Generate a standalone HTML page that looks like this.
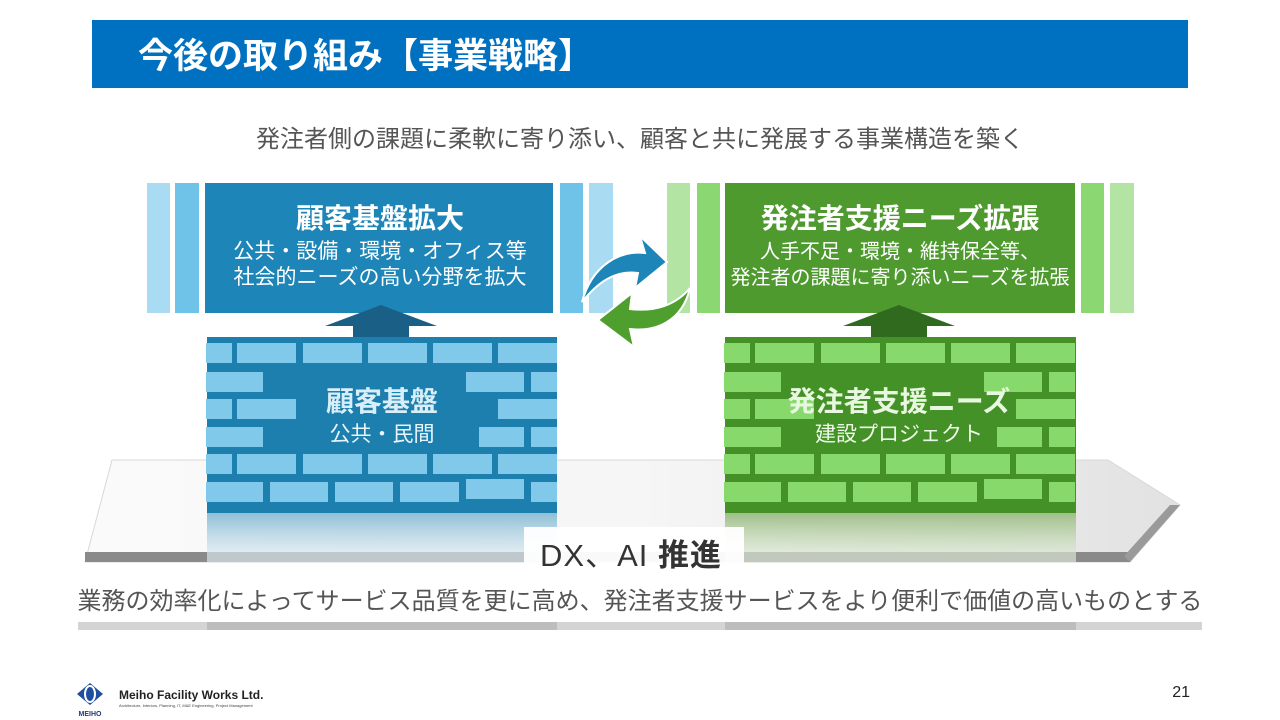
<!DOCTYPE html>
<html><head><meta charset="utf-8"><style>
body{margin:0;width:1280px;height:720px;background:#fff;overflow:hidden;font-family:"Liberation Sans","Noto Sans CJK JP",sans-serif}
</style></head><body>
<svg width="1280" height="720" xmlns="http://www.w3.org/2000/svg" style="position:absolute;left:0;top:0;font-family:'Liberation Sans','Noto Sans CJK JP',sans-serif">
<defs>
<linearGradient id="plat" x1="0" y1="0" x2="1" y2="0"><stop offset="0" stop-color="#fafafa"/><stop offset="0.5" stop-color="#f6f6f6"/><stop offset="1" stop-color="#e2e2e2"/></linearGradient>
<linearGradient id="bfade" x1="0" y1="0" x2="0" y2="1"><stop offset="0" stop-color="#8fbfd6"/><stop offset="1" stop-color="#e6f0f5" stop-opacity="0.6"/></linearGradient>
<linearGradient id="gfade" x1="0" y1="0" x2="0" y2="1"><stop offset="0" stop-color="#9fbf8a"/><stop offset="1" stop-color="#e8f0e2" stop-opacity="0.6"/></linearGradient>
<g id="bricks">
<rect x="206" y="343" width="26" height="20"/><rect x="237" y="343" width="59" height="20"/><rect x="303" y="343" width="59" height="20"/><rect x="368" y="343" width="59" height="20"/><rect x="433" y="343" width="59" height="20"/><rect x="498" y="343" width="59" height="20"/>
<rect x="206" y="372" width="57" height="20"/><rect x="466" y="372" width="58" height="20"/><rect x="531" y="372" width="26" height="20"/>
<rect x="206" y="399" width="26" height="20"/><rect x="237" y="399" width="59" height="20"/><rect x="498" y="399" width="59" height="20"/>
<rect x="206" y="427" width="57" height="20"/><rect x="479" y="427" width="45" height="20"/><rect x="531" y="427" width="26" height="20"/>
<rect x="206" y="454" width="26" height="20"/><rect x="237" y="454" width="59" height="20"/><rect x="303" y="454" width="59" height="20"/><rect x="368" y="454" width="59" height="20"/><rect x="433" y="454" width="59" height="20"/><rect x="498" y="454" width="59" height="20"/>
<rect x="206" y="482" width="57" height="20"/><rect x="270" y="482" width="58" height="20"/><rect x="335" y="482" width="58" height="20"/><rect x="400" y="482" width="59" height="20"/><rect x="466" y="479" width="58" height="20"/><rect x="531" y="482" width="26" height="20"/>
</g>
</defs>
<rect x="92" y="20" width="1096" height="68" fill="#0070c0"/>
<text x="138" y="68" font-size="35" font-weight="bold" fill="#fff">今後の取り組み【事業戦略】</text>
<text x="640" y="147" font-size="24" fill="#555" text-anchor="middle">発注者側の課題に柔軟に寄り添い、顧客と共に発展する事業構造を築く</text>

<polygon points="112,460 1108,460 1180,505 1130,562 85,562" fill="url(#plat)" stroke="#d8d8d8"/>
<polygon points="85,552 1136,552 1130,562 85,562" fill="#8a8a8a"/>
<polygon points="1180,505 1130,562 1124,556 1170,505" fill="#9a9a9a"/>

<rect x="147" y="183" width="23" height="130" fill="#a9dcf2"/>
<rect x="175" y="183" width="24" height="130" fill="#6fc2e8"/>
<rect x="560" y="183" width="23" height="130" fill="#6fc2e8"/>
<rect x="589" y="183" width="24" height="130" fill="#a9dcf2"/>
<rect x="205" y="183" width="348" height="130" fill="#1d85b7"/>
<text x="380" y="228" font-size="28" font-weight="bold" fill="#fff" text-anchor="middle">顧客基盤拡大</text>
<text x="380" y="258" font-size="21" fill="#fff" text-anchor="middle">公共・設備・環境・オフィス等</text>
<text x="380" y="284" font-size="21" fill="#fff" text-anchor="middle">社会的ニーズの高い分野を拡大</text>
<polygon points="325,326 381,305 437,326 409,326 409,338 353,338 353,326" fill="#1a5f86"/>
<rect x="207" y="337" width="350" height="176" fill="#1d7fae"/>
<g fill="#80c9ea"><use href="#bricks"/></g>
<rect x="207" y="513" width="350" height="50" fill="url(#bfade)"/>
<text x="382" y="411" font-size="28" font-weight="bold" fill="#d8eef8" text-anchor="middle">顧客基盤</text>
<text x="382" y="441" font-size="21" fill="#e8f5fb" text-anchor="middle">公共・民間</text>

<rect x="667" y="183" width="23" height="130" fill="#b3e4a3"/>
<rect x="697" y="183" width="23" height="130" fill="#8bd873"/>
<rect x="1081" y="183" width="23" height="130" fill="#8bd873"/>
<rect x="1110" y="183" width="24" height="130" fill="#b3e4a3"/>
<rect x="725" y="183" width="350" height="130" fill="#4e9a2f"/>
<text x="900" y="228" font-size="28" font-weight="bold" fill="#fff" text-anchor="middle">発注者支援ニーズ拡張</text>
<text x="900" y="258" font-size="20" fill="#fff" text-anchor="middle">人手不足・環境・維持保全等、</text>
<text x="900" y="284" font-size="20" fill="#fff" text-anchor="middle">発注者の課題に寄り添いニーズを拡張</text>
<polygon points="843,326 899,305 955,326 927,326 927,338 871,338 871,326" fill="#2f6a1f"/>
<rect x="725" y="337" width="351" height="176" fill="#449128"/>
<g fill="#88d96c" transform="translate(518,0)"><use href="#bricks"/></g>
<rect x="725" y="513" width="351" height="50" fill="url(#gfade)"/>
<text x="899" y="411" font-size="28" font-weight="bold" fill="#e8f7df" text-anchor="middle">発注者支援ニーズ</text>
<text x="899" y="441" font-size="21" fill="#eef9e8" text-anchor="middle">建設プロジェクト</text>

<path d="M582,302 C592,265 620,250 645,253 L640,236 L667,262 L635,288 L638,273 C615,270 598,282 582,302 Z" fill="#1d85b7" stroke="#fff" stroke-width="2"/>
<path d="M690,288 C682,322 655,332 630,329 L634,347 L598,320 L632,293 L630,309 C655,312 676,305 690,288 Z" fill="#4e9f2e" stroke="#fff" stroke-width="2"/>

<rect x="524" y="527" width="220" height="50" fill="#fff" opacity="0.95"/>
<text x="540" y="566" font-size="31" fill="#333" letter-spacing="1">DX、AI <tspan font-weight="bold">推進</tspan></text>

<text x="640" y="609" font-size="24" fill="#555" text-anchor="middle">業務の効率化によってサービス品質を更に高め、発注者支援サービスをより便利で価値の高いものとする</text>
<rect x="78" y="622" width="1124" height="8" fill="#d4d4d4"/>
<rect x="207" y="622" width="350" height="8" fill="#bdbdbd"/>
<rect x="725" y="622" width="351" height="8" fill="#bdbdbd"/>

<polygon points="90,683 103,694 90,705 77,694" fill="#1f4e9f"/>
<ellipse cx="90" cy="694" rx="5" ry="8" fill="none" stroke="#fff" stroke-width="2"/>
<text x="90" y="716" font-size="7" font-weight="bold" fill="#1f3a7a" text-anchor="middle">MEIHO</text>
<text x="119" y="699" font-size="12" font-weight="bold" fill="#222">Meiho Facility Works Ltd.</text>
<text x="119" y="707" font-size="4" fill="#444">Architecture, Interiors, Planning, IT, M&amp;E Engineering, Project Management</text>
<text x="1190" y="697" font-size="16" fill="#222" text-anchor="end">21</text>
</svg>
</body></html>
